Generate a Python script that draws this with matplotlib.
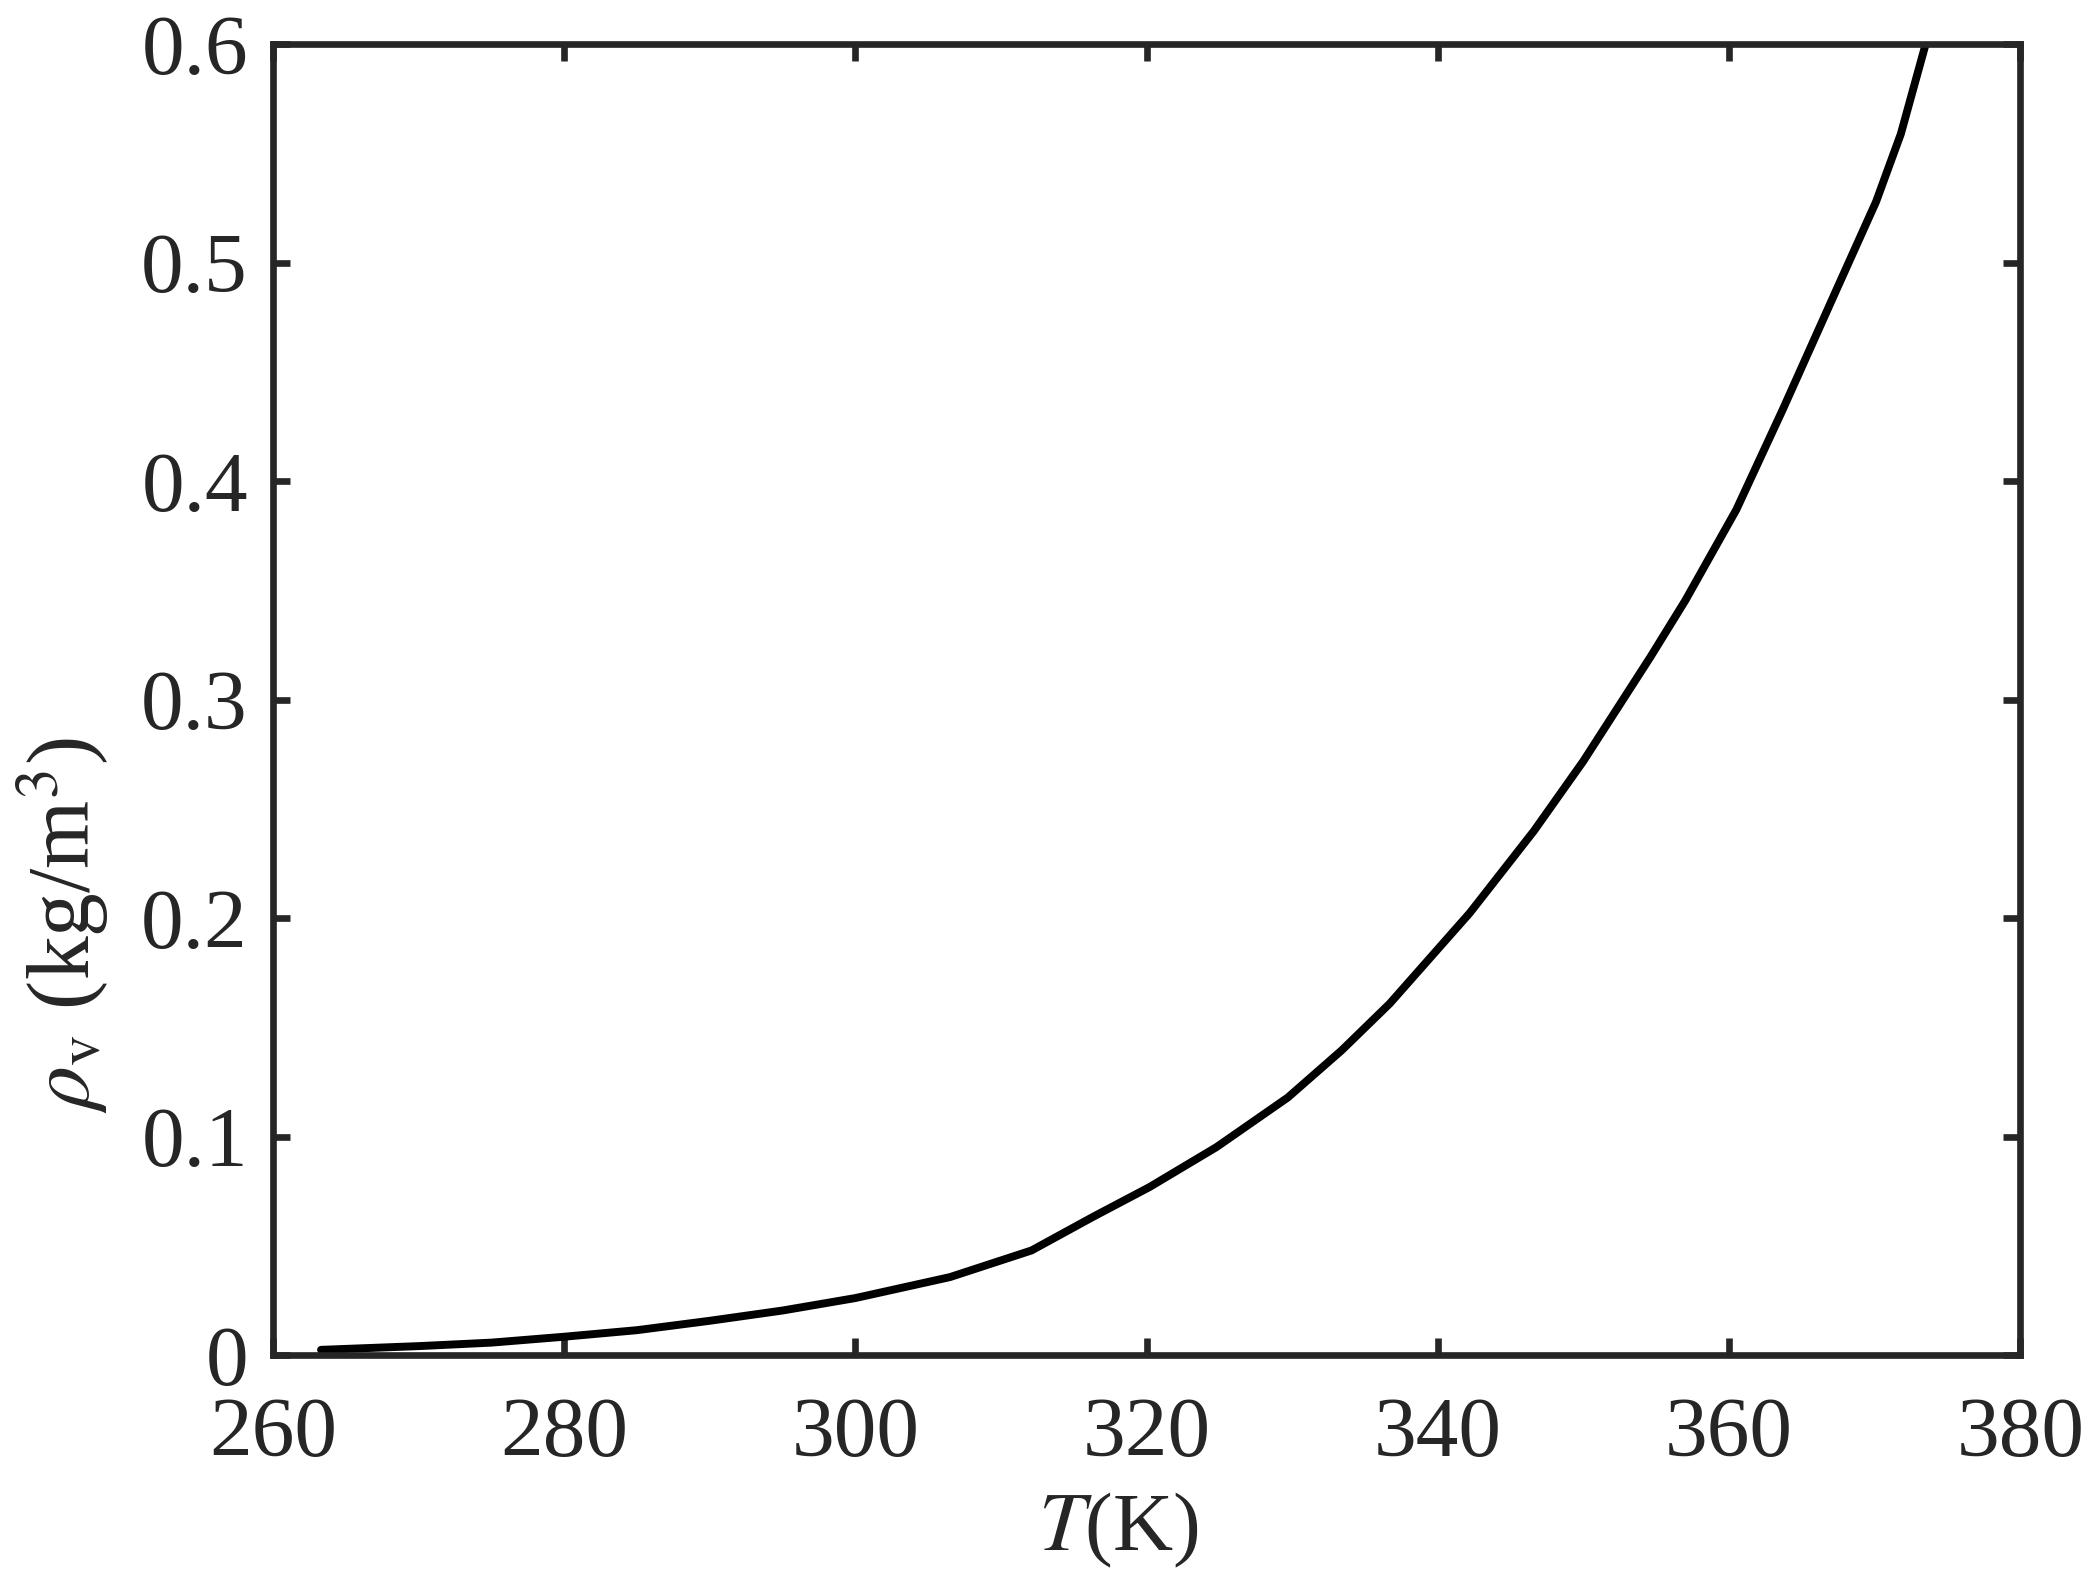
import matplotlib
matplotlib.use("Agg")
import matplotlib.pyplot as plt

# saturated vapour density
T = [263.3, 270, 275, 280, 285, 290, 295, 300, 306.5, 312.1, 316.3,
     320.2, 324.8, 329.7, 333.4, 336.7, 342.2, 346.6, 350.0, 354.6,
     357.0, 360.5, 363.7, 367.4, 370.1, 371.8, 373.5, 374.0]
rho = [0.0025, 0.0042, 0.0058, 0.0085, 0.0115, 0.0158, 0.0205, 0.0262,
       0.0358, 0.048, 0.0633, 0.077, 0.0953, 0.118, 0.1396, 0.161,
       0.2025, 0.240, 0.272, 0.3196, 0.3455, 0.387, 0.433, 0.488,
       0.528, 0.559, 0.600, 0.615]

xticks = [260, 280, 300, 320, 340, 360, 380]
yticks = [0, 0.1, 0.2, 0.3, 0.4, 0.5, 0.6]
ytick_labels = ["0", "0.1", "0.2", "0.3", "0.4", "0.5", "0.6"]

plt.rcParams['font.family'] = ['Liberation Serif', 'DejaVu Serif']
plt.rcParams['mathtext.fontset'] = 'stix'

fig = plt.figure(figsize=(7, 5.29), dpi=300)
ax = fig.add_axes([0.130, 0.146, 0.832, 0.826])

ax.plot(T, rho, color='black', lw=1.9, solid_capstyle='round',
        solid_joinstyle='round')
ax.set_xlim(260, 380)
ax.set_ylim(0, 0.6)
ax.set_xticks(xticks)
ax.set_yticks(yticks)
ax.set_yticklabels(ytick_labels)

dark = '#262626'
for s in ax.spines.values():
    s.set_linewidth(1.6)
    s.set_color(dark)
ax.tick_params(direction='in', length=4, width=1.6, color=dark,
               top=True, right=True, labelsize=20.5, labelcolor=dark)
ax.tick_params(axis='x', pad=10)
ax.tick_params(axis='y', pad=6)

ax.set_xlabel(r'$T$(K)', fontsize=20, color=dark)
ax.set_ylabel(r'$\rho_{\rm v}$ (kg/m$^3$)', fontsize=21, color=dark)
ax.xaxis.set_label_coords(0.484, -0.103)
ax.yaxis.set_label_coords(-0.093, 0.328)

fig.savefig('out.png', dpi=300)
